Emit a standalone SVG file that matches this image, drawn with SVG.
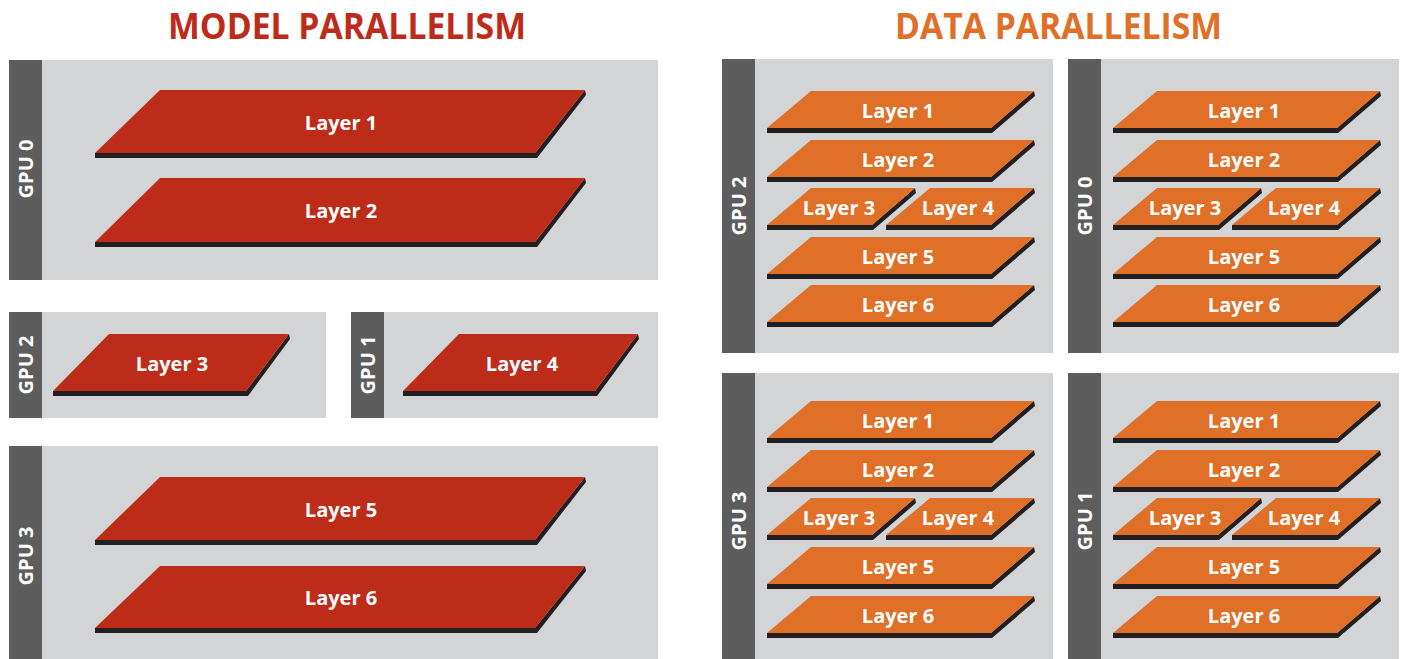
<svg xmlns="http://www.w3.org/2000/svg" xmlns:xlink="http://www.w3.org/1999/xlink" width="1404" height="659" viewBox="0 0 1404 659">
<style>
.box{fill:#d3d4d6}
.bar{fill:#5d5d5d}
.red{fill:#bc2c19}
.org{fill:#e06f27}
.sh{fill:#231f20}
.gpu{font-family:"Open Sans","Noto Sans","DejaVu Sans",sans-serif;font-weight:bold;font-size:20px;fill:#ffffff;text-anchor:middle}
.lbl{font-family:"Open Sans","Noto Sans","DejaVu Sans",sans-serif;font-weight:bold;font-size:20px;fill:#ffffff;text-anchor:middle}
.title{font-family:"Open Sans","Noto Sans","DejaVu Sans",sans-serif;font-weight:bold;font-size:36px;text-anchor:middle}
</style>
<defs>
<g id="full">
<path class="sh" d="M0,37 L224,37 L267,0 L268,5 L225,42 L0,42 Z"/>
<path class="org" d="M0,37 L44,0 L267,0 L224,37 Z"/>
</g>
<g id="half">
<path class="sh" d="M0,37 L105,37 L148,0 L149,5 L106,42 L0,42 Z"/>
<path class="org" d="M0,37 L44,0 L148,0 L105,37 Z"/>
</g>
<g id="dp">
<rect class="box" x="0" y="0" width="331" height="294"/>
<rect class="bar" x="0" y="0" width="33" height="294"/>
</g>
</defs>

<text class="title" x="347" y="39" fill="#bd2c1a" textLength="358" lengthAdjust="spacingAndGlyphs">MODEL PARALLELISM</text>
<text class="title" x="1058.5" y="39" fill="#e07028" textLength="327" lengthAdjust="spacingAndGlyphs">DATA PARALLELISM</text>

<!-- MODEL PARALLELISM -->
<g id="mp-gpu0">
<rect class="box" x="9" y="60" width="649" height="220"/>
<rect class="bar" x="9" y="60" width="33" height="220"/>
<text class="gpu" transform="translate(33,169) rotate(-90)">GPU 0</text>
<path class="sh" d="M95,153 L535,153 L585,90 L586,95 L537,158 L95,158 Z"/>
<path class="red" d="M95,153 L160,90 L585,90 L535,153 Z"/>
<text class="lbl" x="341" y="129.5">Layer 1</text>
<path class="sh" d="M95,242 L535,242 L585,178 L586,183 L537,247 L95,247 Z"/>
<path class="red" d="M95,242 L160,178 L585,178 L535,242 Z"/>
<text class="lbl" x="341" y="218">Layer 2</text>
</g>
<g id="mp-gpu2">
<rect class="box" x="9" y="312" width="317" height="106"/>
<rect class="bar" x="9" y="312" width="33" height="106"/>
<text class="gpu" transform="translate(33,365) rotate(-90)">GPU 2</text>
<path class="sh" d="M53,391 L246,391 L289,334 L290,339 L248,396 L53,396 Z"/>
<path class="red" d="M53,391 L109,334 L289,334 L246,391 Z"/>
<text class="lbl" x="172" y="370.5">Layer 3</text>
</g>
<g id="mp-gpu1">
<rect class="box" x="351" y="312" width="307" height="106"/>
<rect class="bar" x="351" y="312" width="33" height="106"/>
<text class="gpu" transform="translate(375,365) rotate(-90)">GPU 1</text>
<path class="sh" d="M403,391 L595,391 L638,334 L639,339 L597,396 L403,396 Z"/>
<path class="red" d="M403,391 L459,334 L638,334 L595,391 Z"/>
<text class="lbl" x="522" y="370.5">Layer 4</text>
</g>
<g id="mp-gpu3">
<rect class="box" x="9" y="446" width="649" height="213"/>
<rect class="bar" x="9" y="446" width="33" height="213"/>
<text class="gpu" transform="translate(33,556) rotate(-90)">GPU 3</text>
<path class="sh" d="M95,540 L535,540 L585,477 L586,482 L537,545 L95,545 Z"/>
<path class="red" d="M95,540 L160,477 L585,477 L535,540 Z"/>
<text class="lbl" x="341" y="516.5">Layer 5</text>
<path class="sh" d="M95,628 L535,628 L585,566 L586,571 L537,633 L95,633 Z"/>
<path class="red" d="M95,628 L160,566 L585,566 L535,628 Z"/>
<text class="lbl" x="341" y="605">Layer 6</text>
</g>

<!-- DATA PARALLELISM -->
<g id="dp-gpu2">
<use xlink:href="#dp" x="722" y="59"/>
<text class="gpu" transform="translate(746,206) rotate(-90)">GPU 2</text>
<use xlink:href="#full" x="767" y="91"/>
<text class="lbl" x="898" y="117.5">Layer 1</text>
<use xlink:href="#full" x="767" y="140"/>
<text class="lbl" x="898" y="166.5">Layer 2</text>
<use xlink:href="#half" x="767" y="188"/>
<text class="lbl" x="839" y="214.5">Layer 3</text>
<use xlink:href="#half" x="886" y="188"/>
<text class="lbl" x="958" y="214.5">Layer 4</text>
<use xlink:href="#full" x="767" y="237"/>
<text class="lbl" x="898" y="263.5">Layer 5</text>
<use xlink:href="#full" x="767" y="285"/>
<text class="lbl" x="898" y="311.5">Layer 6</text>
</g>
<g id="dp-gpu0">
<use xlink:href="#dp" x="1068" y="59"/>
<text class="gpu" transform="translate(1092,206) rotate(-90)">GPU 0</text>
<use xlink:href="#full" x="1113" y="91"/>
<text class="lbl" x="1244" y="117.5">Layer 1</text>
<use xlink:href="#full" x="1113" y="140"/>
<text class="lbl" x="1244" y="166.5">Layer 2</text>
<use xlink:href="#half" x="1113" y="188"/>
<text class="lbl" x="1185" y="214.5">Layer 3</text>
<use xlink:href="#half" x="1232" y="188"/>
<text class="lbl" x="1304" y="214.5">Layer 4</text>
<use xlink:href="#full" x="1113" y="237"/>
<text class="lbl" x="1244" y="263.5">Layer 5</text>
<use xlink:href="#full" x="1113" y="285"/>
<text class="lbl" x="1244" y="311.5">Layer 6</text>
</g>
<g id="dp-gpu3">
<use xlink:href="#dp" x="722" y="373"/>
<text class="gpu" transform="translate(746,521) rotate(-90)">GPU 3</text>
<use xlink:href="#full" x="767" y="401"/>
<text class="lbl" x="898" y="427.5">Layer 1</text>
<use xlink:href="#full" x="767" y="450"/>
<text class="lbl" x="898" y="476.5">Layer 2</text>
<use xlink:href="#half" x="767" y="498"/>
<text class="lbl" x="839" y="524.5">Layer 3</text>
<use xlink:href="#half" x="886" y="498"/>
<text class="lbl" x="958" y="524.5">Layer 4</text>
<use xlink:href="#full" x="767" y="547"/>
<text class="lbl" x="898" y="573.5">Layer 5</text>
<use xlink:href="#full" x="767" y="596"/>
<text class="lbl" x="898" y="622.5">Layer 6</text>
</g>
<g id="dp-gpu1">
<use xlink:href="#dp" x="1068" y="373"/>
<text class="gpu" transform="translate(1092,521) rotate(-90)">GPU 1</text>
<use xlink:href="#full" x="1113" y="401"/>
<text class="lbl" x="1244" y="427.5">Layer 1</text>
<use xlink:href="#full" x="1113" y="450"/>
<text class="lbl" x="1244" y="476.5">Layer 2</text>
<use xlink:href="#half" x="1113" y="498"/>
<text class="lbl" x="1185" y="524.5">Layer 3</text>
<use xlink:href="#half" x="1232" y="498"/>
<text class="lbl" x="1304" y="524.5">Layer 4</text>
<use xlink:href="#full" x="1113" y="547"/>
<text class="lbl" x="1244" y="573.5">Layer 5</text>
<use xlink:href="#full" x="1113" y="596"/>
<text class="lbl" x="1244" y="622.5">Layer 6</text>
</g>
<g id="connectors"/>
</svg>
